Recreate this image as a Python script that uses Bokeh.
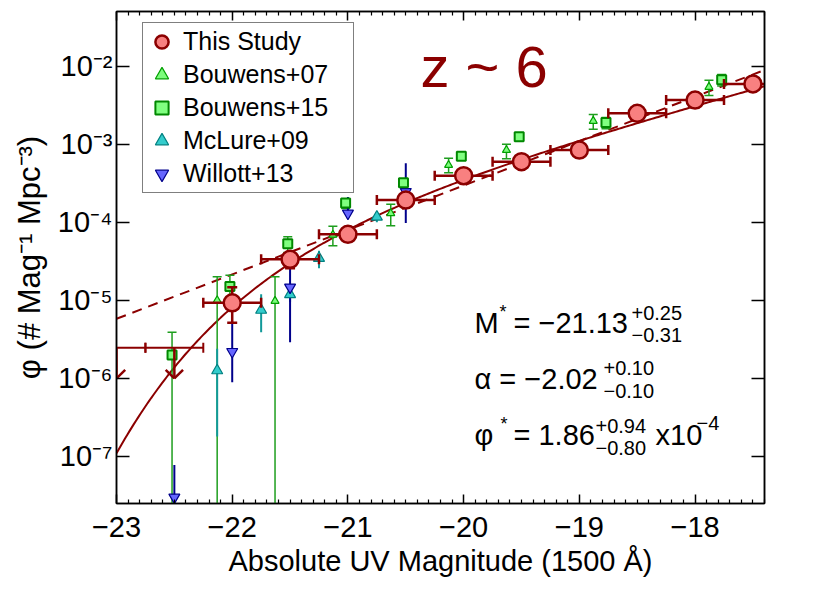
import numpy as np
from bokeh.plotting import figure
from bokeh.models import (Range1d, LinearAxis, LogAxis, FixedTicker, CustomJSTickFormatter,
                          Label, Legend, LegendItem)
from bokeh.embed import file_html
from bokeh.resources import INLINE

FONT = "Liberation Sans"
DARK_RED = "#8B0000"

# ---------------- data ----------------
# This study (stepwise LF)
ts_M = [-22.0, -21.5, -21.0, -20.5, -20.0, -19.5, -19.0, -18.5, -18.0, -17.5]
ts_phi = [9.3e-6, 3.35e-5, 7.0e-5, 1.92e-4, 3.94e-4, 5.96e-4, 8.4e-4, 2.48e-3, 3.67e-3, 5.9e-3]
ts_hi = [1.47e-5, 3.98e-5, 7.8e-5, 2.1e-4, 4.3e-4, 6.5e-4, 9.2e-4, 2.7e-3, 4.4e-3, 6.6e-3]
ts_lo = [5.16e-6, 2.57e-5, 6.3e-5, 1.75e-4, 3.6e-4, 5.5e-4, 7.7e-4, 2.3e-3, 3.0e-3, 5.3e-3]
ts_dM = [0.25, 0.25, 0.25, 0.25, 0.25, 0.25, 0.25, 0.25, 0.25, 0.25]

# This study upper limits
ul_M = [-23.0, -22.5]
ul_phi = [2.47e-6, 2.47e-6]
ul_tip = [1.0e-6, 1.0e-6]
ul_dM = [0.25, 0.25]

# Schechter fit parameters (solid line)
M_star = -21.13
alpha = -2.02
phi_star = 1.86e-4

# Dashed power-law line (end points)
pl_M = [-23.0, -17.4]
pl_phi = [5.8e-6, 8.9e-3]

# Bouwens+07
b07_M = [-22.13, -21.63, -21.13, -20.63, -20.13, -19.63, -18.88, -17.88]
b07_phi = [1.0e-5, 9.8e-6, 6.9e-5, 1.3e-4, 5.4e-4, 8.4e-4, 1.98e-3, 5.4e-3]
b07_hi = [2.0e-5, 2.0e-5, 8.9e-5, 1.7e-4, 6.6e-4, 1.0e-3, 2.4e-3, 6.6e-3]
b07_lo = [1e-9, 1e-9, 5.0e-5, 9.0e-5, 4.3e-4, 6.5e-4, 1.55e-3, 4.2e-3]

# Bouwens+15
b15_M = [-22.52, -22.02, -21.52, -21.02, -20.52, -20.02, -19.52, -18.77, -17.77]
b15_phi = [2.0e-6, 1.5e-5, 5.3e-5, 1.76e-4, 3.2e-4, 6.98e-4, 1.246e-3, 1.9e-3, 6.68e-3]
b15_hi = [3.9e-6, 2.1e-5, 6.5e-5, 2.0e-4, 3.6e-4, 7.8e-4, 1.38e-3, 2.2e-3, 7.8e-3]
b15_lo = [1e-9, 9.0e-6, 4.1e-5, 1.5e-4, 2.8e-4, 6.2e-4, 1.11e-3, 1.58e-3, 5.55e-3]

# McLure+09
mc_M = [-22.13, -21.75, -21.5, -21.25, -20.75]
mc_phi = [1.26e-6, 7.5e-6, 1.19e-5, 3.47e-5, 1.17e-4]
mc_hi = [2.4e-6, 1.2e-5, 1.5e-5, 4.3e-5, 1.35e-4]
mc_lo = [1.8e-7, 3.9e-6, 0.95e-5, 2.57e-5, 1.0e-4]

# Willott+13
wi_M = [-22.5, -22.0, -21.5, -21.0, -20.5]
wi_phi = [3.0e-8, 2.2e-6, 1.47e-5, 1.3e-4, 2.46e-4]
wi_hi = [7.8e-8, 5.2e-6, 2.57e-5, 2.1e-4, 5.7e-4]
wi_lo = [1e-9, 8.9e-7, 2.9e-6, 1.1e-4, 9.8e-5]

# axes
x_ticks = [-23, -22, -21, -20, -19, -18]
y_ticks = [1e-7, 1e-6, 1e-5, 1e-4, 1e-3, 1e-2]
y_tick_labels = ["10\u207b\u2077", "10\u207b\u2076", "10\u207b\u2075",
                 "10\u207b\u2074", "10\u207b\u00b3", "10\u207b\u00b2"]
x_range = (-23.0, -17.4)
y_range = (2.5e-8, 5e-2)

# ---------------- figure ----------------
p = figure(frame_width=648, frame_height=492,
           x_range=Range1d(*x_range), y_range=Range1d(*y_range),
           y_axis_type="log", x_axis_location=None, y_axis_location=None,
           output_backend="svg", toolbar_location=None,
           min_border_left=116, min_border_right=50, min_border_top=11, min_border_bottom=86,
           background_fill_color="white", border_fill_color="white")
p.grid.visible = False
p.outline_line_color = "black"
p.outline_line_width = 1.5

x_minor = [float(v) for v in np.round(np.arange(-23.0, -17.35, 0.1), 2) if abs(v - round(v)) > 1e-6]


def hide_labels(ax):
    ax.major_label_text_font_size = "1px"
    ax.major_label_text_color = None
    ax.major_label_standoff = 0


def make_xaxis(show):
    ax = LinearAxis(ticker=FixedTicker(ticks=x_ticks, minor_ticks=x_minor),
                    major_tick_in=9, major_tick_out=0, minor_tick_in=4, minor_tick_out=0,
                    axis_line_width=1.5, major_tick_line_width=1.5, minor_tick_line_width=1.2,
                    axis_line_color="black", major_tick_line_color="black",
                    minor_tick_line_color="black")
    if show:
        ax.formatter = CustomJSTickFormatter(
            code="return tick < 0 ? '\u2212' + Math.abs(tick) : String(tick);")
        ax.major_label_text_font = FONT
        ax.major_label_text_font_size = "29px"
        ax.major_label_text_color = "black"
        ax.major_label_standoff = 13
        ax.axis_label = "Absolute UV Magnitude (1500 \u00c5)"
        ax.axis_label_text_font = FONT
        ax.axis_label_text_font_size = "29px"
        ax.axis_label_text_font_style = "normal"
        ax.axis_label_text_color = "black"
        ax.axis_label_standoff = 5
    else:
        hide_labels(ax)
    return ax


def make_yaxis(show):
    ax = LogAxis(ticker=FixedTicker(ticks=y_ticks, minor_ticks=[]),
                 major_tick_in=13, major_tick_out=0, minor_tick_in=0, minor_tick_out=0,
                 axis_line_width=1.5, major_tick_line_width=1.5,
                 axis_line_color="black", major_tick_line_color="black",
                 minor_tick_line_color=None)
    if show:
        ax.formatter = CustomJSTickFormatter(
            args=dict(tvals=y_ticks, tlabels=y_tick_labels),
            code="""
            for (let i = 0; i < tvals.length; i++) {
                if (Math.abs(Math.log10(tvals[i]) - Math.log10(tick)) < 1e-6) { return tlabels[i]; }
            }
            return "";
            """)
        ax.major_label_text_font = FONT
        ax.major_label_text_font_size = "29px"
        ax.major_label_text_color = "black"
        ax.major_label_standoff = 4
        ax.axis_label = "\u03c6 (# Mag\u207b\u00b9 Mpc\u207b\u00b3)"
        ax.axis_label_text_font = FONT
        ax.axis_label_text_font_size = "31px"
        ax.axis_label_text_font_style = "normal"
        ax.axis_label_text_color = "black"
        ax.axis_label_standoff = 8
    else:
        hide_labels(ax)
    return ax


p.add_layout(make_xaxis(True), "below")
p.add_layout(make_xaxis(False), "above")
p.add_layout(make_yaxis(True), "left")
p.add_layout(make_yaxis(False), "right")

# ---------------- curves ----------------
Mgrid = np.linspace(x_range[0], x_range[1], 300)
xx = 10 ** (-0.4 * (Mgrid - M_star))
schechter = 0.4 * np.log(10) * phi_star * xx ** (alpha + 1) * np.exp(-xx)
p.line(Mgrid, schechter, line_color=DARK_RED, line_width=2)
p.line(pl_M, pl_phi, line_color=DARK_RED, line_width=2, line_dash="10 7")


# ---------------- literature points ----------------
def errbars(M, lo, hi, color, width, cap):
    M = np.array(M, dtype=float)
    p.segment(x0=M, y0=lo, x1=M, y1=hi, line_color=color, line_width=width)
    if cap:
        p.scatter(x=np.concatenate([M, M]), y=list(lo) + list(hi), marker="dash",
                  size=cap, line_color=color, line_width=width)


errbars(b07_M, b07_lo, b07_hi, "#1E9E1E", 1.5, 9)
errbars(b15_M, b15_lo, b15_hi, "#1E9E1E", 1.5, 9)
errbars(mc_M, mc_lo, mc_hi, "#119999", 2, 0)
errbars(wi_M, wi_lo, wi_hi, "#00008B", 2, 0)

r_mc = p.scatter(mc_M, mc_phi, marker="triangle", size=11, fill_color="#33CCCC",
                 line_color="#008080", line_width=1.2)
r_wi = p.scatter(wi_M, wi_phi, marker="inverted_triangle", size=11, fill_color="#6666FF",
                 line_color="#00008B", line_width=1.2)
r_b07 = p.scatter(b07_M, b07_phi, marker="triangle", size=8, fill_color="#7CFC7C",
                  line_color="#00A000", line_width=1.2)
r_b15 = p.scatter(b15_M, b15_phi, marker="square", size=9, fill_color="#80FF80",
                  line_color="#008800", line_width=2)

# ---------------- this study ----------------
tsM = np.array(ts_M)
tsdM = np.array(ts_dM)
p.segment(x0=tsM - tsdM, y0=ts_phi, x1=tsM + tsdM, y1=ts_phi, line_color=DARK_RED, line_width=2.5)
p.segment(x0=tsM, y0=ts_lo, x1=tsM, y1=ts_hi, line_color=DARK_RED, line_width=2.5)
p.scatter(x=np.concatenate([tsM - tsdM, tsM + tsdM]), y=list(ts_phi) + list(ts_phi),
          marker="dash", angle=np.pi / 2, size=10, line_color=DARK_RED, line_width=2.5)
p.scatter(x=np.concatenate([tsM, tsM]), y=list(ts_lo) + list(ts_hi),
          marker="dash", size=10, line_color=DARK_RED, line_width=2.5)

# upper limits
ulM = np.array(ul_M)
uldM = np.array(ul_dM)
ulphi = np.array(ul_phi)
ultip = np.array(ul_tip)
p.segment(x0=ulM - uldM, y0=ulphi, x1=ulM + uldM, y1=ulphi, line_color=DARK_RED, line_width=2)
p.scatter(x=np.concatenate([ulM - uldM, ulM + uldM]), y=list(ulphi) + list(ulphi),
          marker="dash", angle=np.pi / 2, size=10, line_color=DARK_RED, line_width=2)
p.segment(x0=ulM, y0=ulphi, x1=ulM, y1=ultip, line_color=DARK_RED, line_width=2.5)
head_dx, head_dy = 0.075, 10 ** 0.11
p.segment(x0=ulM, y0=ultip, x1=ulM - head_dx, y1=ultip * head_dy, line_color=DARK_RED, line_width=2.5)
p.segment(x0=ulM, y0=ultip, x1=ulM + head_dx, y1=ultip * head_dy, line_color=DARK_RED, line_width=2.5)

r_ts = p.scatter(ts_M, ts_phi, marker="circle", size=17, fill_color="#F88080",
                 line_color=DARK_RED, line_width=2.5)

# ---------------- legend ----------------
legend = Legend(items=[LegendItem(label="This Study", renderers=[r_ts]),
                       LegendItem(label="Bouwens+07", renderers=[r_b07]),
                       LegendItem(label="Bouwens+15", renderers=[r_b15]),
                       LegendItem(label="McLure+09", renderers=[r_mc]),
                       LegendItem(label="Willott+13", renderers=[r_wi])],
                location=(26, 310), label_text_font=FONT, label_text_font_size="25px",
                label_text_color="black",
                border_line_color="black", border_line_width=1.5, background_fill_alpha=1.0,
                padding=2, spacing=0, margin=0, label_height=33, glyph_height=33, glyph_width=33,
                label_standoff=5, label_width=168)
p.add_layout(legend)


# ---------------- texts ----------------
def lab(x, y, text, size, color="black", **kw):
    p.add_layout(Label(x=x, y=y, x_units="screen", y_units="screen", text=text,
                       text_font=FONT, text_font_size=f"{size}px", text_color=color,
                       text_baseline="alphabetic", **kw))


# redshift tag
lab(304, 437, "z ~ 6", 58, color=DARK_RED)

# fit parameters
lab(358, 181, "M", 29)
lab(383, 192, "*", 18)
lab(397, 181, "= \u221221.13", 29)
lab(515, 191, "+0.25", 20)
lab(515, 169, "\u22120.31", 20)

lab(358, 125, "\u03b1 = \u22122.02", 29)
lab(487, 136, "+0.10", 20)
lab(487, 113, "\u22120.10", 20)

lab(358, 69, "\u03c6", 29)
lab(384, 80, "*", 18)
lab(397, 69, "= 1.86", 29)
lab(479, 78, "+0.94", 20)
lab(479, 56, "\u22120.80", 20)
lab(539, 69, "x10", 29)
lab(580, 81, "\u22124", 20)

open("out.html", "w").write(file_html(p, INLINE))
